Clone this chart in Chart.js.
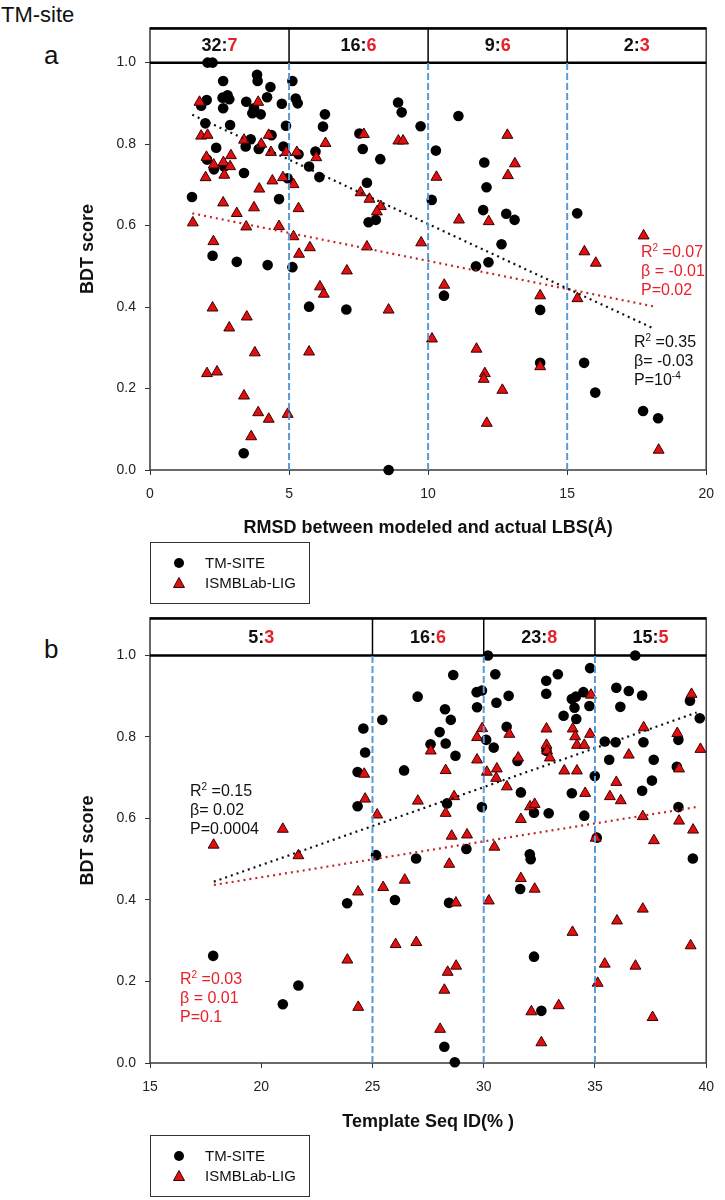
<!DOCTYPE html>
<html>
<head>
<meta charset="utf-8">
<script src="https://cdn.jsdelivr.net/npm/chart.js@4.4.1/dist/chart.umd.min.js"></script>
<style>
  body { margin: 0; background: #fff; font-family: "Liberation Sans", Arial, sans-serif; }
  #page { position: relative; width: 725px; height: 1200px; overflow: hidden; }
  canvas { position: absolute; left: 0; }
  .lbl { position: absolute; white-space: nowrap; color: #111; }
  .stats { position: absolute; font-size: 16px; line-height: 19px; white-space: nowrap; color: #111; }
  .stats sup { font-size: 10px; vertical-align: 6px; line-height: 0; }
  .red { color: #e8202a; }
  .legend { position: absolute; width: 158px; height: 60px; border: 1px solid #333; font-size: 15px; color: #111; }
  .legend .item { position: absolute; left: 0; height: 18px; line-height: 18px; }
  .legend .txt { position: absolute; left: 54px; white-space: nowrap; }
  .legend svg { position: absolute; left: 22px; top: 3px; }
</style>
</head>
<body>
<div id="page">
  <div class="lbl" style="left:1px; top:2px; font-size:22px;">TM-site</div>
  <div class="lbl" style="left:44px; top:40px; font-size:26px;">a</div>
  <div class="lbl" style="left:44px; top:634px; font-size:26px;">b</div>

  <canvas id="chartA" width="725" height="545" style="top:0px;"></canvas>
  <canvas id="chartB" width="725" height="548" style="top:590px;"></canvas>

  <div class="stats red" style="left:641px; top:242px;">R<sup>2</sup> =0.07<br>β = -0.01<br>P=0.02</div>
  <div class="stats" style="left:634px; top:332px;">R<sup>2</sup> =0.35<br>β= -0.03<br>P=10<sup>-4</sup></div>
  <div class="stats" style="left:190px; top:781px;">R<sup>2</sup> =0.15<br>β= 0.02<br>P=0.0004</div>
  <div class="stats red" style="left:180px; top:969px;">R<sup>2</sup> =0.03<br>β = 0.01<br>P=0.1</div>

  <div class="legend" style="left:150px; top:542px;">
    <div class="item" style="top:11px; width:100%;"><svg width="12" height="12"><circle cx="6" cy="6" r="5" fill="#000"/></svg><span class="txt">TM-SITE</span></div>
    <div class="item" style="top:31px; width:100%;"><svg width="12" height="12"><polygon points="6,0.5 11.5,10.5 0.5,10.5" fill="#e01010" stroke="#3a0000" stroke-width="1"/></svg><span class="txt">ISMBLab-LIG</span></div>
  </div>
  <div class="legend" style="left:150px; top:1135px;">
    <div class="item" style="top:11px; width:100%;"><svg width="12" height="12"><circle cx="6" cy="6" r="5" fill="#000"/></svg><span class="txt">TM-SITE</span></div>
    <div class="item" style="top:31px; width:100%;"><svg width="12" height="12"><polygon points="6,0.5 11.5,10.5 0.5,10.5" fill="#e01010" stroke="#3a0000" stroke-width="1"/></svg><span class="txt">ISMBLab-LIG</span></div>
  </div>
</div>

<script>
// y axis ticks shared by both panels
const yTicks = [0, 0.2, 0.4, 0.6, 0.8, 1.0];

// panel a: RMSD between modeled and actual LBS vs BDT score
const rmsdTmX = [2.07, 2.25, 2.63, 3.85, 3.87, 4.33, 2.79, 2.61, 2.85, 2.04, 1.84, 3.46, 4.21, 3.74, 3.68, 3.98,
  4.74, 2.63, 1.99, 2.88, 4.89, 3.62, 3.44, 3.91, 4.37, 4.80, 2.38, 2.67, 3.38, 1.51, 4.64, 4.95, 2.25, 3.12,
  4.23, 3.37, 2.05, 2.30,
  5.12, 5.24, 5.31, 6.29, 6.22, 5.95, 5.34, 5.72, 6.09, 7.53, 7.65, 8.28, 7.80, 7.86, 8.12, 8.92, 9.05, 9.73,
  5.12, 5.72, 7.06, 8.58,
  11.09, 10.28, 12.02, 12.10, 10.13, 11.98, 12.81, 13.11, 12.64, 11.72, 12.17, 10.57, 14.03, 14.03, 15.36,
  15.61, 16.01, 17.73, 18.27];
const rmsdTmY = [1.0, 1.0, 0.955, 0.97, 0.955, 0.94, 0.92, 0.914, 0.91, 0.908, 0.894, 0.904, 0.915, 0.888, 0.876, 0.873,
  0.899, 0.888, 0.851, 0.847, 0.845, 0.812, 0.794, 0.788, 0.822, 0.794, 0.791, 0.745, 0.729, 0.67, 0.665, 0.716, 0.526, 0.511,
  0.503, 0.041, 0.762, 0.738,
  0.955, 0.912, 0.90, 0.873, 0.843, 0.782, 0.775, 0.745, 0.719, 0.826, 0.788, 0.763, 0.705, 0.608, 0.614, 0.902, 0.878, 0.844,
  0.498, 0.401, 0.394, 0.0,
  0.869, 0.784, 0.755, 0.694, 0.663, 0.638, 0.629, 0.614, 0.554, 0.50, 0.51, 0.428, 0.393, 0.263, 0.63,
  0.263, 0.19, 0.145, 0.127];
const rmsdLigX = [1.78, 3.89, 1.84, 2.07, 3.38, 4.27, 4.00, 4.35, 4.90, 2.03, 2.91, 2.29, 2.64, 2.88, 2.00, 2.67,
  4.40, 4.78, 3.93, 2.63, 3.12, 3.74, 1.54, 3.46, 4.64, 2.28,
  2.25, 3.48, 2.85, 3.77, 2.05, 2.41, 3.38, 3.89, 4.27, 4.95, 3.64,
  5.28, 6.31, 5.98, 5.16, 5.34, 7.69, 8.93, 9.10, 7.57, 7.89, 8.30, 8.16, 5.16, 5.75, 5.36, 7.80, 9.75,
  7.08, 6.11, 6.25, 8.58, 5.72,
  12.85, 13.12, 12.87, 10.30, 11.11, 12.18, 10.58, 14.03, 10.14, 11.74, 12.04, 12.00, 12.67, 12.11, 14.03,
  17.75, 15.62, 16.03, 15.37, 18.29];
const rmsdLigY = [0.903, 0.903, 0.82, 0.822, 0.81, 0.822, 0.80, 0.78, 0.78, 0.768, 0.772, 0.749, 0.755, 0.745, 0.718, 0.724,
  0.71, 0.718, 0.69, 0.656, 0.63, 0.644, 0.607, 0.597, 0.598, 0.561,
  0.398, 0.376, 0.349, 0.288, 0.237, 0.241, 0.182, 0.141, 0.125, 0.137, 0.082,
  0.78, 0.802, 0.767, 0.701, 0.642, 0.824, 0.808, 0.808, 0.681, 0.665, 0.647, 0.634, 0.573, 0.546, 0.53, 0.548, 0.558,
  0.489, 0.45, 0.432, 0.393, 0.29,
  0.822, 0.752, 0.723, 0.719, 0.614, 0.61, 0.454, 0.428, 0.322, 0.297, 0.237, 0.223, 0.196, 0.115, 0.254,
  0.575, 0.536, 0.508, 0.421, 0.049];
const rmsdBins = [5, 10, 15];
const rmsdBinTm = ['32', '16', '9', '2'];
const rmsdBinLig = ['7', '6', '6', '3'];
const rmsdTrendTmX = [1.52, 18.15];
const rmsdTrendTmY = [0.872, 0.346];
const rmsdTrendLigX = [1.52, 18.15];
const rmsdTrendLigY = [0.630, 0.401];

// panel b: template sequence identity vs BDT score
const seqTmX = [27.03, 25.44, 24.59, 24.67, 24.33, 26.42, 24.33, 25.16, 26.96,
  30.19, 36.81, 28.63, 30.52, 34.78, 33.33, 32.81, 32.81, 29.68, 29.92, 31.12, 30.57, 29.70, 28.26, 28.52, 28.02,
  27.61, 28.29, 28.73, 31.03, 30.11, 30.45, 31.52, 31.67, 32.82, 33.96, 34.14, 34.48, 34.08, 34.75, 33.59, 34.16,
  35.96, 36.52, 37.12, 36.14, 35.44, 35.93, 37.18, 35.64, 37.64, 38.75, 39.27, 39.71, 38.68, 37.56, 37.12, 34.99,
  33.96, 28.35, 29.92, 32.26, 32.92, 34.52, 38.75, 35.08, 29.22, 32.07, 39.40,
  23.86, 26.01, 17.84, 21.67, 20.97,
  32.11, 31.64, 28.44, 32.26, 32.59, 28.23, 28.70];
const seqTmY = [0.899, 0.842, 0.821, 0.762, 0.714, 0.718, 0.63, 0.51, 0.502,
  1.0, 1.0, 0.952, 0.954, 0.969, 0.954, 0.938, 0.906, 0.91, 0.914, 0.901, 0.884, 0.873, 0.868, 0.842, 0.812,
  0.782, 0.784, 0.754, 0.825, 0.793, 0.774, 0.741, 0.664, 0.766, 0.893, 0.899, 0.91, 0.872, 0.876, 0.852, 0.844,
  0.921, 0.913, 0.902, 0.874, 0.789, 0.787, 0.787, 0.744, 0.744, 0.793, 0.889, 0.846, 0.727, 0.693, 0.668, 0.704,
  0.662, 0.637, 0.628, 0.614, 0.613, 0.607, 0.628, 0.553, 0.525, 0.512, 0.502,
  0.392, 0.40, 0.263, 0.19, 0.144,
  0.50, 0.427, 0.393, 0.261, 0.128, 0.04, 0.002];
const seqLigX = [24.63, 24.67, 25.21, 27.04, 20.97, 17.86, 21.67,
  29.93, 29.70, 31.15, 27.62, 29.70, 28.29, 30.14, 30.59, 30.56, 31.04, 31.55, 32.82, 32.82, 32.85, 32.97, 34.00,
  34.11, 34.78, 34.19, 34.52, 33.62, 34.19, 34.82, 28.67, 28.29, 28.56, 29.25, 30.48, 31.67, 32.08, 32.29, 34.56,
  35.67, 36.16, 35.96, 36.52, 37.19, 38.70, 39.74, 39.34, 38.78, 37.15, 38.78, 39.41, 37.65, 35.03,
  24.35, 25.48, 26.45, 26.04, 26.97, 23.87, 24.36,
  28.45, 31.67, 32.29, 28.75, 30.23, 37.15, 35.99, 33.99, 39.30, 35.44, 36.82, 28.76, 28.38, 35.12, 28.23, 33.37,
  32.14, 37.59, 28.04, 32.59];
const seqLigY = [0.709, 0.648, 0.609, 0.643, 0.574, 0.535, 0.509,
  0.821, 0.799, 0.807, 0.766, 0.744, 0.718, 0.714, 0.722, 0.699, 0.678, 0.749, 0.82, 0.78, 0.766, 0.749, 0.82,
  0.801, 0.807, 0.78, 0.78, 0.717, 0.717, 0.903, 0.654, 0.613, 0.557, 0.56, 0.53, 0.598, 0.629, 0.635, 0.662,
  0.654, 0.644, 0.689, 0.756, 0.823, 0.809, 0.77, 0.905, 0.722, 0.605, 0.594, 0.572, 0.546, 0.552,
  0.42, 0.431, 0.449, 0.291, 0.296, 0.253, 0.137,
  0.488, 0.453, 0.427, 0.393, 0.398, 0.378, 0.349, 0.321, 0.288, 0.243, 0.238, 0.238, 0.223, 0.196, 0.179, 0.141,
  0.126, 0.112, 0.083, 0.05];
const seqBins = [25, 30, 35];
const seqBinTm = ['5', '16', '23', '15'];
const seqBinLig = ['3', '6', '8', '5'];
const seqTrendTmX = [17.87, 39.57];
const seqTrendTmY = [0.445, 0.860];
const seqTrendLigX = [17.87, 39.67];
const seqTrendLigY = [0.437, 0.629];

const FONT = '"Liberation Sans", Arial, sans-serif';
const RED = '#e8202a';
Chart.defaults.font.family = FONT;

const toPts = (xs, ys) => xs.map((x, i) => ({ x: x, y: ys[i] }));

// frame, header band with counts, solid separators above y = 1
const panelBox = {
  id: 'panelBox',
  beforeDatasetsDraw(chart, args, opts) {
    const { ctx, chartArea: a, scales: { x, y } } = chart;
    const y1 = y.getPixelForValue(1);
    ctx.save();
    ctx.strokeStyle = '#3a3a3a';
    ctx.lineWidth = 1.5;
    ctx.strokeRect(a.left, a.top, a.right - a.left, a.bottom - a.top);
    ctx.strokeStyle = '#000';
    ctx.lineWidth = 2.5;
    ctx.beginPath();
    ctx.moveTo(a.left, y1); ctx.lineTo(a.right, y1);
    ctx.moveTo(a.left, a.top + 0.5); ctx.lineTo(a.right, a.top + 0.5);
    ctx.stroke();
    ctx.lineWidth = 1.5;
    opts.edges.forEach(e => {
      const px = x.getPixelForValue(e);
      ctx.beginPath(); ctx.moveTo(px, a.top); ctx.lineTo(px, y1); ctx.stroke();
    });
    const bounds = [x.min, ...opts.edges, x.max];
    ctx.font = 'bold 18px ' + FONT;
    ctx.textBaseline = 'middle';
    ctx.textAlign = 'left';
    const ty = (a.top + y1) / 2 + 1;
    for (let i = 0; i < bounds.length - 1; i++) {
      const cx = (x.getPixelForValue(bounds[i]) + x.getPixelForValue(bounds[i + 1])) / 2;
      const s1 = opts.tm[i] + ':';
      const s2 = opts.lig[i];
      const w1 = ctx.measureText(s1).width;
      const w2 = ctx.measureText(s2).width;
      const x0 = cx - (w1 + w2) / 2;
      ctx.fillStyle = '#111';
      ctx.fillText(s1, x0, ty);
      ctx.fillStyle = RED;
      ctx.fillText(s2, x0 + w1, ty);
    }
    ctx.restore();
  }
};

function makeChart(id, c) {
  const datasets = [];
  c.bins.forEach(b => datasets.push({
    data: [{ x: b, y: 0 }, { x: b, y: 1 }], showLine: true, borderColor: '#5b9bd5', borderWidth: 2,
    borderDash: [7, 3], pointRadius: 0, order: 0, clip: false
  }));
  datasets.push({
    data: toPts(c.trendTmX, c.trendTmY), showLine: true, borderColor: '#111', borderWidth: 2.2,
    borderDash: [2, 4], pointRadius: 0, order: 1
  });
  datasets.push({
    data: toPts(c.trendLigX, c.trendLigY), showLine: true, borderColor: '#c0282c', borderWidth: 2.2,
    borderDash: [2, 4], pointRadius: 0, order: 1
  });
  datasets.push({
    data: toPts(c.ligX, c.ligY), pointStyle: 'triangle', pointRadius: 6.3, backgroundColor: '#e01010',
    borderColor: '#3a0000', borderWidth: 1, order: 2, clip: false
  });
  datasets.push({
    data: toPts(c.tmX, c.tmY), pointStyle: 'circle', pointRadius: 5.3, backgroundColor: '#000',
    borderColor: '#000', borderWidth: 0, order: 3, clip: false
  });

  return new Chart(document.getElementById(id), {
    type: 'scatter',
    data: { datasets: datasets },
    plugins: [panelBox],
    options: {
      responsive: false,
      animation: false,
      events: [],
      devicePixelRatio: 1,
      layout: { padding: { left: 77, right: 13, top: c.top, bottom: 0 } },
      plugins: {
        legend: { display: false },
        tooltip: { enabled: false },
        panelBox: { edges: c.bins, tm: c.binTm, lig: c.binLig }
      },
      scales: {
        x: {
          type: 'linear', min: c.xmin, max: c.xmax,
          ticks: { stepSize: 5, padding: c.xPad, color: '#222', font: { size: 14 } },
          grid: { drawOnChartArea: false, tickLength: 5, color: '#333' },
          border: { display: false },
          title: { display: true, text: c.xTitle, color: '#111', font: { size: 18, weight: 'bold' },
            padding: { top: 0, bottom: c.titlePad } },
          afterFit: ax => { ax.height = 75; }
        },
        y: {
          min: 0, max: c.ymax,
          afterBuildTicks: ax => { ax.ticks = yTicks.map(v => ({ value: v })); },
          ticks: { callback: v => v.toFixed(1), padding: 9, color: '#222', font: { size: 14 } },
          grid: { drawOnChartArea: false, tickLength: 5, color: '#333' },
          border: { display: false },
          title: { display: true, text: 'BDT score', color: '#111', font: { size: 18, weight: 'bold' },
            padding: { top: 0, bottom: 0 } },
          afterFit: ax => { ax.width = 73; }
        }
      }
    }
  });
}

makeChart('chartA', {
  tmX: rmsdTmX, tmY: rmsdTmY, ligX: rmsdLigX, ligY: rmsdLigY,
  trendTmX: rmsdTrendTmX, trendTmY: rmsdTrendTmY, trendLigX: rmsdTrendLigX, trendLigY: rmsdTrendLigY,
  bins: rmsdBins, binTm: rmsdBinTm, binLig: rmsdBinLig,
  xmin: 0, xmax: 20, ymax: 1.085, top: 28, xPad: 11, titlePad: 6,
  xTitle: 'RMSD between modeled and actual LBS(Å)'
});

makeChart('chartB', {
  tmX: seqTmX, tmY: seqTmY, ligX: seqLigX, ligY: seqLigY,
  trendTmX: seqTrendTmX, trendTmY: seqTrendTmY, trendLigX: seqTrendLigX, trendLigY: seqTrendLigY,
  bins: seqBins, binTm: seqBinTm, binLig: seqBinLig,
  xmin: 15, xmax: 40, ymax: 1.092, top: 28, xPad: 11, titlePad: 5.5,
  xTitle: 'Template Seq ID(% )'
});
</script>
</body>
</html>
